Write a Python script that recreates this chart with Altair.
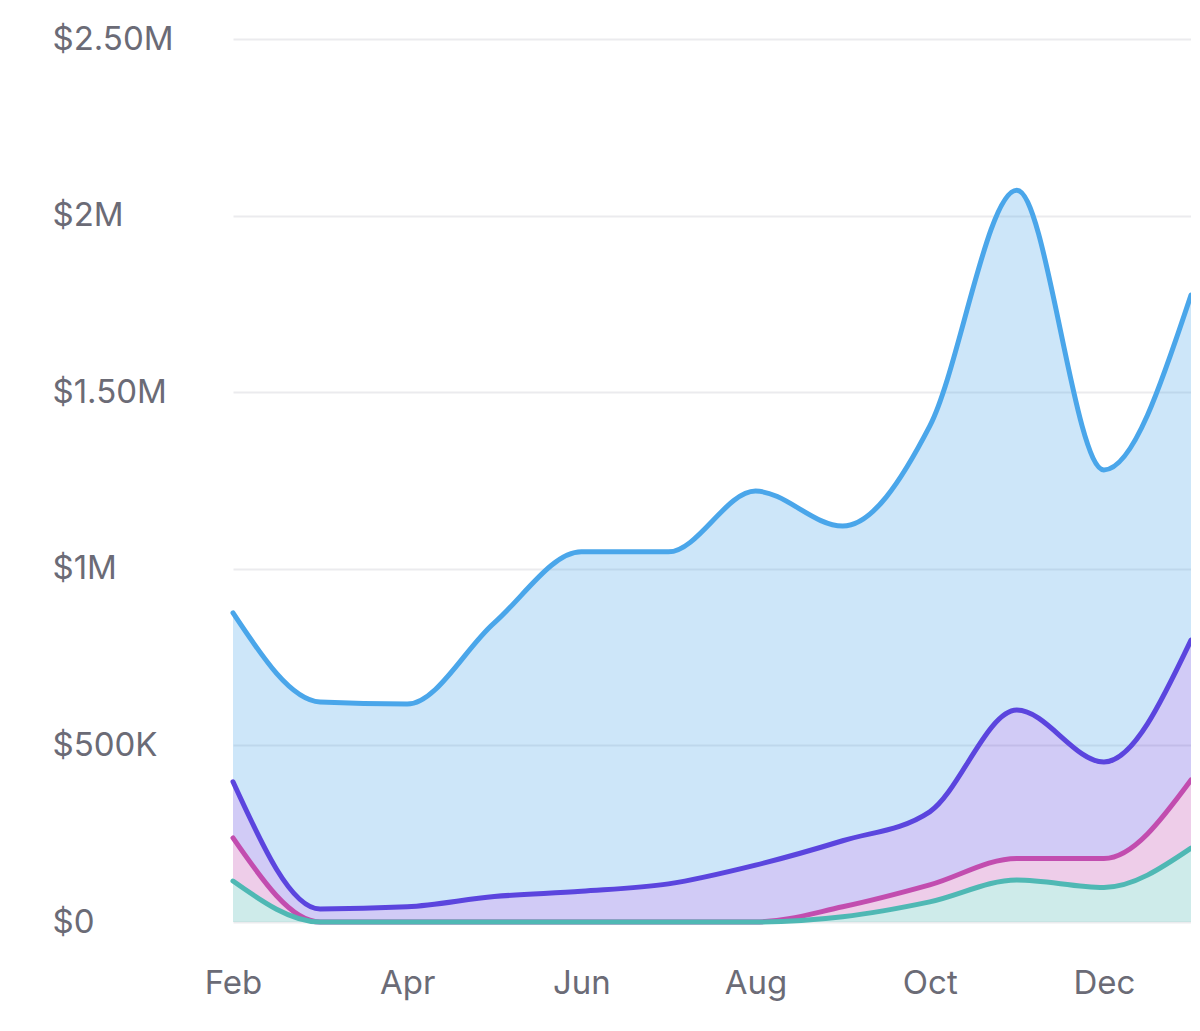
import altair as alt
import pandas as pd

months = ["Feb", "Mar", "Apr", "May", "Jun", "Jul", "Aug", "Sep", "Oct", "Nov", "Dec", "Jan"]
tick_months = ["Feb", "Apr", "Jun", "Aug", "Oct", "Dec"]

# stacked series values (each series' own contribution), in dollars
series_names = ["Series D", "Series C", "Series B", "Series A"]  # top -> bottom
series_a = [116000, 0, 0, 0, 0, 0, 0, 15000, 57000, 119000, 98000, 209000]          # teal (bottom)
series_b = [122000, 0, 0, 0, 0, 0, 0, 28000, 48000, 61000, 82000, 193000]           # pink
series_c = [159000, 37000, 43000, 72000, 87000, 108000, 161000, 187000, 207000, 420000, 273000, 396000]  # purple
series_d = [478000, 586000, 574000, 775000, 961000, 940000, 1059000, 891000, 1092000, 1472000, 827000, 977000]  # blue (top)

line_colors = ["#4AA6EA", "#5B45DE", "#C24DAF", "#4FB8B4"]
y_ticks = [0, 500000, 1000000, 1500000, 2000000, 2500000]

rows = []
for name, order, vals in [
    ("Series D", 3, series_d),
    ("Series C", 2, series_c),
    ("Series B", 1, series_b),
    ("Series A", 0, series_a),
]:
    for m, v in zip(months, vals):
        rows.append({"month": m, "series": name, "order": order, "value": v})
df = pd.DataFrame(rows)

label_expr = (
    "datum.value == 0 ? '$0' : "
    "datum.value >= 1000000 ? (datum.value % 1000000 == 0 ? '$' + (datum.value / 1000000) + 'M' "
    ": '$' + format(datum.value / 1000000, '.2f') + 'M') : '$' + (datum.value / 1000) + 'K'"
)

x_enc = alt.X(
    "month:O",
    sort=months,
    scale=alt.Scale(type="point", padding=0, domain=months),
    axis=alt.Axis(
        values=tick_months,
        title=None,
        domain=False,
        ticks=False,
        tickSize=0,
        grid=False,
        labelAngle=0,
        labelFont="Inter",
        labelFontSize=33,
        labelColor="#6B6B76",
        labelBaseline="alphabetic",
        labelPadding=71,
    ),
)

color_scale = alt.Scale(domain=series_names, range=line_colors)

base = alt.Chart(df).transform_stack(
    stack="value",
    groupby=["month"],
    as_=["v0", "v1"],
    sort=[alt.SortField("order", order="ascending")],
)

y_axis = alt.Axis(
    values=y_ticks,
    title=None,
    domain=False,
    ticks=False,
    tickSize=0,
    grid=True,
    gridColor="#EBEBEE",
    gridWidth=2,
    labelExpr=label_expr,
    labelFont="Inter",
    labelFontSize=33,
    labelColor="#6B6B76",
    labelAlign="left",
    labelBaseline="middle",
    labelPadding=181,
)

area = base.mark_area(interpolate="monotone", fillOpacity=0.28).encode(
    x=x_enc,
    y=alt.Y("v1:Q", scale=alt.Scale(domain=[0, 2500000], nice=False), axis=y_axis),
    y2="v0:Q",
    color=alt.Color("series:N", scale=color_scale, legend=None),
)

line = base.mark_line(interpolate="monotone", strokeWidth=5, strokeCap="round", strokeJoin="round").encode(
    x=x_enc,
    y=alt.Y("v1:Q", axis=y_axis),
    color=alt.Color("series:N", scale=color_scale, legend=None),
)

chart = (
    alt.layer(area, line)
    .properties(
        width=958,
        height=883,
        background="white",
        autosize=alt.AutoSizeParams(type="none"),
        padding={"left": 225, "top": 31, "right": 0, "bottom": 90},
    )
    .configure_view(stroke=None, strokeWidth=0)
)

chart.save("out.html", embed_options={"renderer": "svg", "actions": False})
